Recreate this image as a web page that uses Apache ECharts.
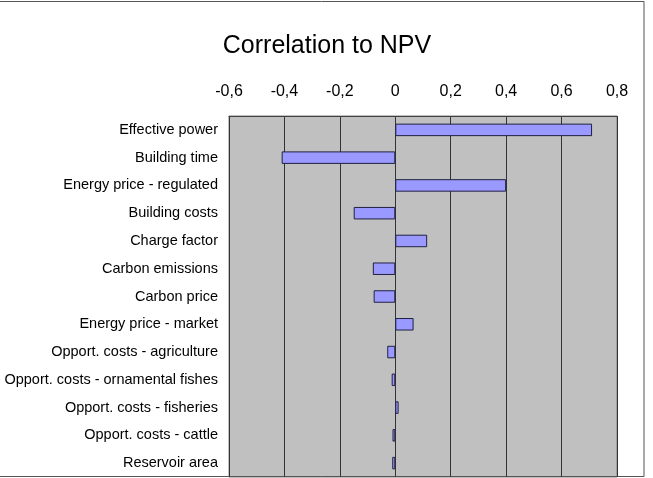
<!DOCTYPE html>
<html>
<head>
<meta charset="utf-8">
<script src="https://cdn.jsdelivr.net/npm/echarts@6/dist/echarts.min.js"></script>
<style>
  html, body { margin: 0; padding: 0; background: #fff; }
  #main { width: 653px; height: 478px; }
</style>
</head>
<body>
<div id="main"></div>
<script>
var chart = echarts.init(document.getElementById('main'));

// input variables, top to bottom as in the chart
var categories = [
    'Effective power',
    'Building time',
    'Energy price - regulated',
    'Building costs',
    'Charge factor',
    'Carbon emissions',
    'Carbon price',
    'Energy price - market',
    'Opport. costs - agriculture',
    'Opport. costs - ornamental fishes',
    'Opport. costs - fisheries',
    'Opport. costs - cattle',
    'Reservoir area'
];

// correlation with NPV
var correlation = [0.71, -0.41, 0.40, -0.15, 0.115, -0.081, -0.078, 0.066, -0.029, -0.013, 0.012, -0.010, -0.011];

var fontFam = '"Liberation Sans", Arial, sans-serif';

var option = {
    textStyle: { fontFamily: fontFam },
    animation: false,

    title: {
        text: 'Correlation to NPV',
        left: 322,
        textAlign: 'center',
        top: 29,
        textStyle: {
            fontFamily: fontFam,
            fontSize: 25,
            fontWeight: 'normal',
            color: '#000'
        }
    },

    grid: {
        left: 229,
        right: 36,
        top: 116,
        bottom: 1,
        show: true,
        backgroundColor: '#c0c0c0',
        borderColor: '#808080',
        borderWidth: 1
    },

    xAxis: {
        type: 'value',
        position: 'top',
        min: -0.6,
        max: 0.8,
        interval: 0.2,
        axisLine: { show: true, lineStyle: { color: '#404040', width: 1 } },
        axisTick: { show: false },
        axisLabel: {
            margin: 16,
            fontSize: 16,
            color: '#000',
            fontFamily: fontFam,
            formatter: function (v) {
                if (Math.abs(v) < 1e-9) return '0';
                return v.toFixed(1).replace('.', ',');
            }
        },
        splitLine: { show: true, lineStyle: { color: '#333', width: 1 } }
    },

    yAxis: {
        type: 'category',
        inverse: true,
        data: categories,
        axisLine: { show: false },
        axisTick: { show: false },
        axisLabel: {
            margin: 11,
            fontSize: 14.5,
            color: '#000',
            fontFamily: fontFam
        }
    },

    series: [{
        name: 'Correlation',
        type: 'bar',
        data: correlation,
        barCategoryGap: '55%',
        itemStyle: {
            color: '#9999ff',
            borderColor: '#202040',
            borderWidth: 1
        }
    }],

    graphic: [{
        type: 'rect',
        shape: { x: -2, y: 1.5, width: 646, height: 475 },
        style: { fill: null, stroke: '#555', lineWidth: 1 },
        silent: true
    }]
};

chart.setOption(option);
</script>
</body>
</html>
